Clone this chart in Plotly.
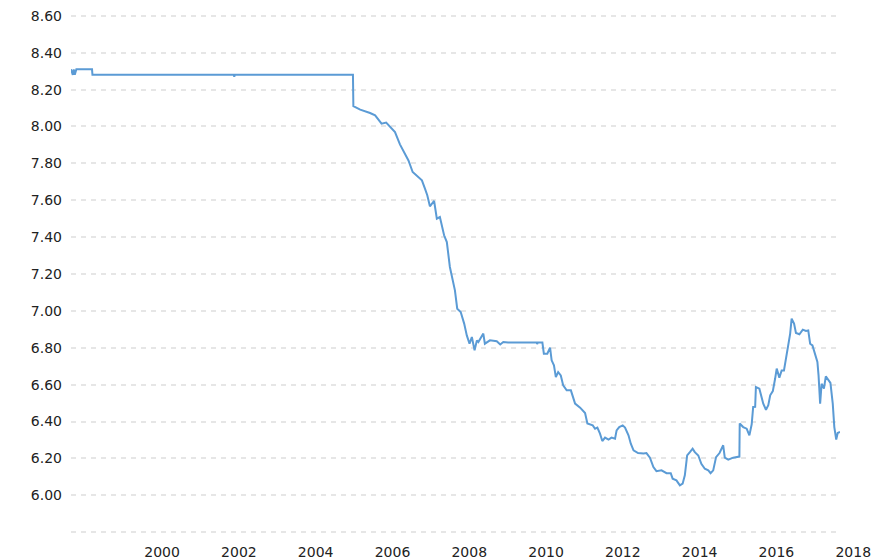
"""USD/CNY exchange rate line chart, 1998-2018."""

import plotly.graph_objects as go

dates = [
    "1998-03-15", "1998-04-01", "1998-04-10", "1998-04-20", "1998-05-05", "1998-10-01",
    "1998-10-05", "2002-06-10", "2002-06-15", "2002-06-20", "2005-07-18", "2005-07-22",
    "2005-09-25", "2005-11-10", "2005-12-28", "2006-02-14", "2006-03-18", "2006-04-16",
    "2006-05-30", "2006-07-05", "2006-08-22", "2006-10-08", "2006-11-17", "2006-12-28",
    "2007-02-06", "2007-03-22", "2007-05-05", "2007-06-03", "2007-06-25", "2007-07-20",
    "2007-08-29", "2007-09-24", "2007-10-23", "2007-12-02", "2007-12-28", "2008-01-26",
    "2008-02-17", "2008-03-14", "2008-04-05", "2008-05-08", "2008-06-10", "2008-07-05",
    "2008-07-31", "2008-08-22", "2008-09-17", "2008-10-09", "2008-10-23", "2008-12-09",
    "2008-12-24", "2009-02-10", "2009-04-16", "2009-05-19", "2009-06-17", "2009-08-01",
    "2010-05-01", "2010-05-05", "2010-05-10", "2010-06-24", "2010-07-08", "2010-08-10",
    "2010-09-05", "2010-09-20", "2010-10-12", "2010-10-30", "2010-11-21", "2010-12-16",
    "2011-01-08", "2011-02-10", "2011-03-22", "2011-05-01", "2011-06-18", "2011-08-04",
    "2011-08-26", "2011-10-16", "2011-11-07", "2011-11-29", "2011-12-24", "2012-01-15",
    "2012-02-10", "2012-03-14", "2012-04-12", "2012-05-15", "2012-05-30", "2012-06-24",
    "2012-07-27", "2012-08-18", "2012-09-20", "2012-10-12", "2012-11-07", "2012-12-20",
    "2013-02-10", "2013-03-10", "2013-04-12", "2013-05-15", "2013-06-13", "2013-07-31",
    "2013-09-17", "2013-10-27", "2013-11-14", "2013-12-20", "2014-01-22", "2014-02-17",
    "2014-03-10", "2014-04-01", "2014-04-27", "2014-05-23", "2014-06-13", "2014-07-16",
    "2014-08-14", "2014-09-16", "2014-10-19", "2014-11-10", "2014-12-05", "2015-01-01",
    "2015-02-03", "2015-02-17", "2015-03-10", "2015-03-25", "2015-04-27", "2015-06-13",
    "2015-07-31", "2015-08-11", "2015-08-14", "2015-09-16", "2015-10-19", "2015-11-14",
    "2015-12-06", "2015-12-20", "2016-01-08", "2016-01-15", "2016-02-17", "2016-03-10",
    "2016-03-25", "2016-04-20", "2016-05-12", "2016-05-30", "2016-06-24", "2016-07-16",
    "2016-07-31", "2016-08-25", "2016-09-16", "2016-10-08", "2016-11-03", "2016-12-06",
    "2016-12-20", "2017-01-12", "2017-01-30", "2017-03-04", "2017-04-05", "2017-05-05",
    "2017-05-27", "2017-06-14", "2017-07-06", "2017-07-31", "2017-08-22", "2017-09-02",
    "2017-09-17", "2017-10-01", "2017-10-23", "2017-11-10", "2017-12-02", "2017-12-24",
    "2018-01-15", "2018-01-30", "2018-02-17", "2018-03-03", "2018-03-25",
]

rates = [
    8.31, 8.28, 8.31, 8.28, 8.31, 8.31,
    8.28, 8.28, 8.27, 8.28, 8.28, 8.11,
    8.091, 8.084, 8.073, 8.060, 8.037, 8.015,
    8.021, 7.997, 7.970, 7.903, 7.861, 7.816,
    7.753, 7.730, 7.708, 7.663, 7.627, 7.567,
    7.596, 7.500, 7.509, 7.410, 7.373, 7.238,
    7.175, 7.111, 7.012, 6.994, 6.931, 6.867,
    6.822, 6.858, 6.786, 6.840, 6.831, 6.877,
    6.822, 6.840, 6.835, 6.818, 6.831, 6.828,
    6.828, 6.820, 6.828, 6.828, 6.768, 6.768,
    6.801, 6.732, 6.705, 6.641, 6.668, 6.650,
    6.596, 6.569, 6.569, 6.497, 6.475, 6.446,
    6.389, 6.379, 6.361, 6.367, 6.334, 6.294,
    6.313, 6.302, 6.313, 6.307, 6.352, 6.370,
    6.379, 6.367, 6.325, 6.280, 6.244, 6.229,
    6.226, 6.229, 6.204, 6.153, 6.131, 6.135,
    6.120, 6.120, 6.090, 6.081, 6.054, 6.063,
    6.108, 6.216, 6.234, 6.253, 6.234, 6.216,
    6.171, 6.144, 6.135, 6.120, 6.135, 6.207,
    6.229, 6.244, 6.271, 6.204, 6.193, 6.204,
    6.207, 6.210, 6.389, 6.370, 6.361, 6.325,
    6.385, 6.479, 6.480, 6.587, 6.578, 6.533,
    6.497, 6.464, 6.488, 6.542, 6.565, 6.633,
    6.687, 6.638, 6.677, 6.677, 6.768, 6.877,
    6.958, 6.931, 6.880, 6.873, 6.898, 6.891,
    6.894, 6.822, 6.813, 6.768, 6.723, 6.650,
    6.497, 6.605, 6.578, 6.645, 6.627, 6.609,
    6.497, 6.370, 6.302, 6.338, 6.343,
]

x_tick_vals = ["2000-01-01", "2002-01-01", "2004-01-01", "2006-01-01", "2008-01-01",
               "2010-01-01", "2012-01-01", "2014-01-01", "2016-01-01", "2018-01-01"]
x_tick_text = ["2000", "2002", "2004", "2006", "2008", "2010", "2012", "2014", "2016", "2018"]

y_tick_vals = [5.8, 6.0, 6.2, 6.4, 6.6, 6.8, 7.0, 7.2, 7.4, 7.6, 7.8, 8.0, 8.2, 8.4, 8.6]
y_tick_text = ["", "6.00", "6.20", "6.40", "6.60", "6.80", "7.00", "7.20", "7.40",
               "7.60", "7.80", "8.00", "8.20", "8.40", "8.60"]

fig = go.Figure(
    go.Scatter(
        x=dates,
        y=rates,
        mode="lines",
        line=dict(color="#5b9bd5", width=2),
        hoverinfo="x+y",
    )
)

fig.update_layout(
    width=888,
    height=560,
    margin=dict(l=71, r=48, t=14, b=26),
    plot_bgcolor="white",
    paper_bgcolor="white",
    showlegend=False,
    font=dict(family="DejaVu Sans", size=14, color="#222222"),
)
fig.update_xaxes(
    type="date",
    range=[dates[0], dates[-1]],
    tickvals=x_tick_vals,
    ticktext=x_tick_text,
    ticklabelshift=22,
    ticklabelstandoff=8,
    ticklabeloverflow="allow",
    automargin=False,
    showgrid=False,
    zeroline=False,
    showline=False,
)
# range padded by ~2px so the 5.80 and 8.60 grid lines are not clipped at the edges
fig.update_yaxes(
    range=[5.79, 8.61],
    tickvals=y_tick_vals,
    ticktext=y_tick_text,
    ticklabelstandoff=8,
    ticklabeloverflow="allow",
    automargin=False,
    showgrid=True,
    gridcolor="#e6e6e6",
    gridwidth=2,
    griddash="5px,5px",
    zeroline=False,
    showline=False,
)

# drop the browser's default body margin so the figure sits flush with the window
fig.write_html(
    "out.html",
    config={"displayModeBar": False},
    post_script="document.body.style.margin = '0';",
)
